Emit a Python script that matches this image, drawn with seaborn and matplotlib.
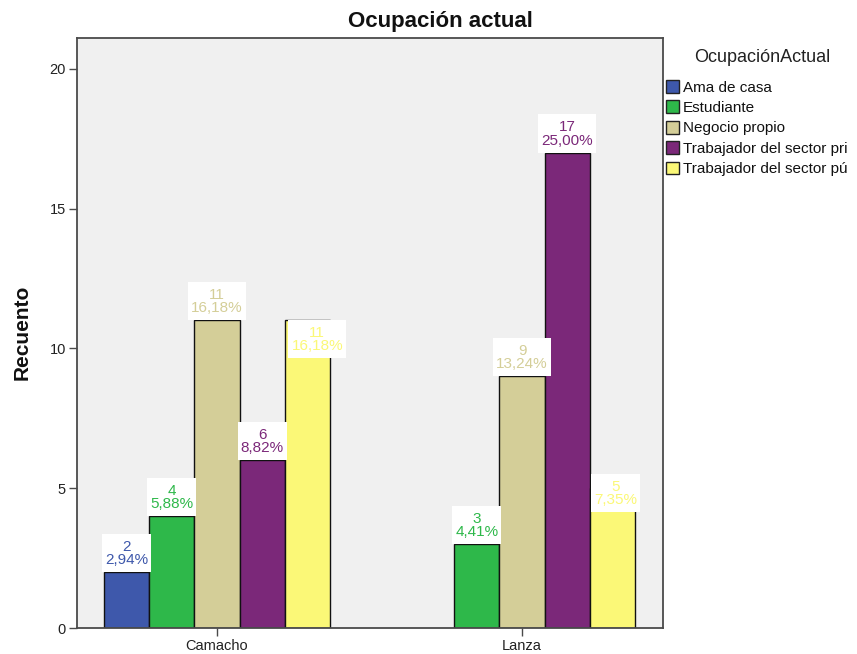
import pandas as pd
import matplotlib
matplotlib.use("Agg")
import matplotlib.pyplot as plt
import seaborn as sns
from matplotlib.patches import Patch, Rectangle
from matplotlib.transforms import IdentityTransform

# Data: counts per place and current occupation
lugares = ["Camacho", "Lanza"]
ocupaciones = ["Ama de casa", "Estudiante", "Negocio propio",
               "Trabajador del sector pri", "Trabajador del sector pú"]
recuento_camacho = [2, 4, 11, 6, 11]
recuento_lanza = [None, 3, 9, 17, 5]   # no "Ama de casa" in Lanza
colores = ["#3e58ab", "#2eb84a", "#d4ce98", "#7b2879", "#fbf877"]
y_ticks = [0, 5, 10, 15, 20]

filas = []
for lugar, serie in zip(lugares, [recuento_camacho, recuento_lanza]):
    for ocup, v in zip(ocupaciones, serie):
        if v is not None:
            filas.append({"Lugar": lugar, "Ocupación": ocup, "Recuento": v})
df = pd.DataFrame(filas)
total = df["Recuento"].sum()

sns.set_theme(style="white")
plt.rcParams["font.family"] = ["Liberation Sans", "DejaVu Sans"]

fig = plt.figure(figsize=(8.57, 6.54), dpi=100)
ax = fig.add_axes([77 / 857, 26 / 654, 586 / 857, 590 / 654])
ax.set_facecolor("#f0f0f0")

ancho = 0.74
sns.barplot(data=df, x="Lugar", y="Recuento", hue="Ocupación",
            order=lugares, hue_order=ocupaciones, palette=colores,
            width=ancho, saturation=1, edgecolor="#111111", linewidth=1,
            errorbar=None, legend=False, ax=ax)

ax.set_xlim(-0.459, 1.462)
ax.set_ylim(0, 21.1)
ax.set_yticks(y_ticks)
ax.set_xlabel("")
ax.set_ylabel("")
for s in ax.spines.values():
    s.set_color("#4a4a4a")
    s.set_linewidth(1.3)
ax.tick_params(axis="both", which="both", direction="out", length=6,
               width=1, color="#4a4a4a", labelsize=10.5, labelcolor="#222222", pad=2)
ax.tick_params(left=True, bottom=True)

# Value labels: count and share of total, in a white box above each bar.
# Offsets (pixels) move the box's bottom edge relative to the bar top.
desplaz = {("Camacho", "Trabajador del sector pú"): (10, -38),
           ("Lanza", "Trabajador del sector pú"): (3, -24)}
pad_x, pad_inf, pad_sup = 3, 5, 6
paso = ancho / len(ocupaciones)
etiquetas = []
for p in ax.patches:
    h = p.get_height()
    if h is None or h != h or h <= 0:
        continue
    cx = p.get_x() + p.get_width() / 2
    i_lugar = int(round(cx))
    i_ocup = int(round((cx - i_lugar + ancho / 2 - paso / 2) / paso))
    lugar, ocup = lugares[i_lugar], ocupaciones[i_ocup]
    v = int(df[(df["Lugar"] == lugar) & (df["Ocupación"] == ocup)]["Recuento"].iloc[0])
    pct = f"{v / total * 100:.2f}".replace(".", ",") + "%"
    dx, dy = desplaz.get((lugar, ocup), (0, 0))
    t = ax.annotate(f"{v}\n{pct}", xy=(cx, v), xytext=(dx, dy + pad_inf),
                    textcoords="offset pixels", ha="center", va="bottom",
                    multialignment="center", fontsize=11, linespacing=0.95,
                    color=colores[i_ocup], zorder=6)
    etiquetas.append(t)

fig.canvas.draw()
renderer = fig.canvas.get_renderer()
for t in etiquetas:
    bb = t.get_window_extent(renderer)
    caja = Rectangle((bb.x0 - pad_x, bb.y0 - pad_inf),
                     bb.width + 2 * pad_x, bb.height + pad_inf + pad_sup,
                     transform=IdentityTransform(), facecolor="white",
                     edgecolor="none", zorder=5, clip_on=False)
    ax.add_artist(caja)

fig.text(440 / 857, 1 - 22 / 654, "Ocupación actual", ha="center", va="center",
         fontsize=16, fontweight="bold", color="#111111")
fig.text(22 / 857, 1 - 332 / 654, "Recuento", ha="center", va="center",
         rotation=90, fontsize=15, fontweight="bold", color="#111111")

fig.text(762 / 857, 1 - 58 / 654, "OcupaciónActual", ha="center", va="center",
         fontsize=13, color="#222222")
handles = [Patch(facecolor=c, edgecolor="#222222", linewidth=1, label=o)
           for c, o in zip(colores, ocupaciones)]
leg = fig.legend(handles=handles, loc="upper left",
                 bbox_to_anchor=(666 / 857, 1 - 80 / 654),
                 frameon=False, fontsize=11,
                 handlelength=0.82, handleheight=0.9, handletextpad=0.3,
                 labelspacing=0.38, borderpad=0, borderaxespad=0)
for t in leg.get_texts():
    t.set_color("#111111")

fig.savefig("out.png", dpi=100, facecolor="white")
